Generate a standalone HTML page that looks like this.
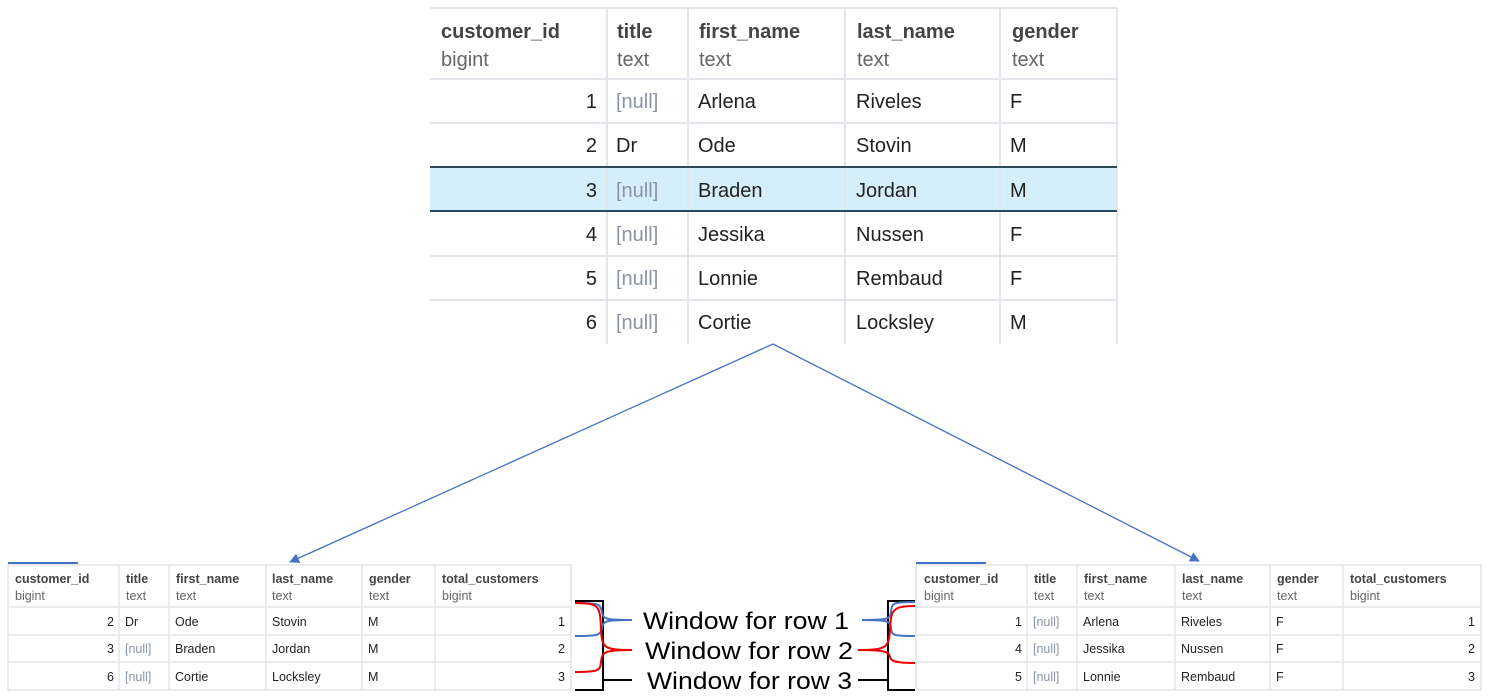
<!DOCTYPE html>
<html><head><meta charset="utf-8"><style>
html,body{margin:0;padding:0;background:#fff;width:1489px;height:700px;overflow:hidden}
svg{display:block;font-family:"Liberation Sans",sans-serif}
</style></head><body>
<svg width="1489" height="700" viewBox="0 0 1489 700">
<defs><marker id="ar" markerWidth="10" markerHeight="10" refX="9" refY="5" orient="auto" markerUnits="userSpaceOnUse"><path d="M0,0 L10,5 L0,10 z" fill="#4472c4"/></marker></defs>
<!-- top table -->
<rect x="430" y="167" width="687" height="44" fill="#d4eefa"/>
<g stroke="#e2e5ea" stroke-width="2" fill="none">
<line x1="430" y1="8" x2="1117" y2="8"/>
<line x1="430" y1="79" x2="1117" y2="79"/>
<line x1="430" y1="123" x2="1117" y2="123"/>
<line x1="430" y1="256" x2="1117" y2="256"/>
<line x1="430" y1="300" x2="1117" y2="300"/>
<line x1="607" y1="8" x2="607" y2="344"/><line x1="688" y1="8" x2="688" y2="344"/>
<line x1="845" y1="8" x2="845" y2="344"/><line x1="1000" y1="8" x2="1000" y2="344"/>
<line x1="1117" y1="8" x2="1117" y2="344"/>
</g>
<line x1="430" y1="167" x2="1117" y2="167" stroke="#2c4a5e" stroke-width="2"/>
<line x1="430" y1="211" x2="1117" y2="211" stroke="#2c4a5e" stroke-width="2"/>
<g font-size="20" fill="#444" font-weight="bold">
<text x="441" y="38">customer_id</text><text x="617" y="38">title</text><text x="699" y="38">first_name</text><text x="857" y="38">last_name</text><text x="1012" y="38">gender</text></g>
<g font-size="20" fill="#666">
<text x="441" y="66">bigint</text><text x="617" y="66">text</text><text x="699" y="66">text</text><text x="857" y="66">text</text><text x="1012" y="66">text</text></g>
<g font-size="20" fill="#222">
<g text-anchor="end"><text x="597" y="108">1</text><text x="597" y="152">2</text><text x="597" y="197">3</text><text x="597" y="241">4</text><text x="597" y="285">5</text><text x="597" y="329">6</text></g>
<g fill="#8a94a6"><text x="616" y="108">[null]</text><text x="616" y="197">[null]</text><text x="616" y="241">[null]</text><text x="616" y="285">[null]</text><text x="616" y="329">[null]</text></g>
<text x="616" y="152">Dr</text>
<text x="698" y="108">Arlena</text><text x="698" y="152">Ode</text><text x="698" y="197">Braden</text><text x="698" y="241">Jessika</text><text x="698" y="285">Lonnie</text><text x="698" y="329">Cortie</text>
<text x="856" y="108">Riveles</text><text x="856" y="152">Stovin</text><text x="856" y="197">Jordan</text><text x="856" y="241">Nussen</text><text x="856" y="285">Rembaud</text><text x="856" y="329">Locksley</text>
<text x="1010" y="108">F</text><text x="1010" y="152">M</text><text x="1010" y="197">M</text><text x="1010" y="241">F</text><text x="1010" y="285">F</text><text x="1010" y="329">M</text>
</g>
<!-- arrows -->
<line x1="773" y1="344" x2="290" y2="562" stroke="#4472c4" stroke-width="1.3" marker-end="url(#ar)"/>
<line x1="773" y1="344" x2="1199" y2="561" stroke="#4472c4" stroke-width="1.3" marker-end="url(#ar)"/>

<!-- left small table -->
<line x1="8" y1="563" x2="78" y2="563" stroke="#4472c4" stroke-width="2"/>
<g stroke="#e2e5ea" stroke-width="1.5" fill="none">
<rect x="8" y="565" width="563" height="125"/>
<line x1="8" y1="607" x2="571" y2="607"/><line x1="8" y1="635" x2="571" y2="635"/><line x1="8" y1="662" x2="571" y2="662"/>
<line x1="119" y1="565" x2="119" y2="690"/><line x1="169" y1="565" x2="169" y2="690"/><line x1="266" y1="565" x2="266" y2="690"/><line x1="362" y1="565" x2="362" y2="690"/><line x1="435" y1="565" x2="435" y2="690"/>
</g>
<g font-size="12.5" fill="#444" font-weight="bold"><text x="15" y="583">customer_id</text><text x="126" y="583">title</text><text x="176" y="583">first_name</text><text x="272" y="583">last_name</text><text x="369" y="583">gender</text><text x="442" y="583">total_customers</text></g>
<g font-size="12.5" fill="#666"><text x="15" y="600">bigint</text><text x="126" y="600">text</text><text x="176" y="600">text</text><text x="272" y="600">text</text><text x="369" y="600">text</text><text x="442" y="600">bigint</text></g>
<g font-size="12.5" fill="#222">
<g text-anchor="end"><text x="114" y="626">2</text><text x="114" y="653">3</text><text x="114" y="681">6</text><text x="565" y="626">1</text><text x="565" y="653">2</text><text x="565" y="681">3</text></g>
<text x="125" y="626">Dr</text><text x="125" y="653" fill="#8a94a6">[null]</text><text x="125" y="681" fill="#8a94a6">[null]</text>
<text x="175" y="626">Ode</text><text x="175" y="653">Braden</text><text x="175" y="681">Cortie</text>
<text x="272" y="626">Stovin</text><text x="272" y="653">Jordan</text><text x="272" y="681">Locksley</text>
<text x="368" y="626">M</text><text x="368" y="653">M</text><text x="368" y="681">M</text>
</g>

<!-- right small table -->
<line x1="916" y1="563" x2="986" y2="563" stroke="#4472c4" stroke-width="2"/>
<g stroke="#e2e5ea" stroke-width="1.5" fill="none">
<rect x="916" y="565" width="565" height="125"/>
<line x1="916" y1="607" x2="1481" y2="607"/><line x1="916" y1="635" x2="1481" y2="635"/><line x1="916" y1="662" x2="1481" y2="662"/>
<line x1="1027" y1="565" x2="1027" y2="690"/><line x1="1077" y1="565" x2="1077" y2="690"/><line x1="1175" y1="565" x2="1175" y2="690"/><line x1="1270" y1="565" x2="1270" y2="690"/><line x1="1343" y1="565" x2="1343" y2="690"/>
</g>
<g font-size="12.5" fill="#444" font-weight="bold"><text x="924" y="583">customer_id</text><text x="1034" y="583">title</text><text x="1084" y="583">first_name</text><text x="1182" y="583">last_name</text><text x="1277" y="583">gender</text><text x="1350" y="583">total_customers</text></g>
<g font-size="12.5" fill="#666"><text x="924" y="600">bigint</text><text x="1034" y="600">text</text><text x="1084" y="600">text</text><text x="1182" y="600">text</text><text x="1277" y="600">text</text><text x="1350" y="600">bigint</text></g>
<g font-size="12.5" fill="#222">
<g text-anchor="end"><text x="1022" y="626">1</text><text x="1022" y="653">4</text><text x="1022" y="681">5</text><text x="1475" y="626">1</text><text x="1475" y="653">2</text><text x="1475" y="681">3</text></g>
<g fill="#8a94a6"><text x="1033" y="626">[null]</text><text x="1033" y="653">[null]</text><text x="1033" y="681">[null]</text></g>
<text x="1083" y="626">Arlena</text><text x="1083" y="653">Jessika</text><text x="1083" y="681">Lonnie</text>
<text x="1181" y="626">Riveles</text><text x="1181" y="653">Nussen</text><text x="1181" y="681">Rembaud</text>
<text x="1276" y="626">F</text><text x="1276" y="653">F</text><text x="1276" y="681">F</text>
</g>

<!-- left braces -->
<path d="M575,601 H603 V690 H575" stroke="#000" stroke-width="2" fill="none"/>
<path d="M575,603 C600,603 600,604 602,612 C603,619 605,620 632,620 M575,636 C600,636 600,635 602,628 C603,621 605,620 632,620" stroke="#4472c4" stroke-width="2" fill="none"/>
<path d="M575,603 C600,603 600,606 601,630 C602,648 604,650 632,650 M575,672 C600,672 600,670 601,662 C602,652 604,650 632,650" stroke="#e00" stroke-width="2" fill="none"/>
<line x1="603" y1="680" x2="632" y2="680" stroke="#000" stroke-width="2"/>
<!-- right braces -->
<path d="M915,601 H888 V690 H915" stroke="#000" stroke-width="2" fill="none"/>
<path d="M915,602 C892,602 892,603 891,612 C890,619 888,620 862,620 M915,636 C892,636 892,635 891,628 C890,621 888,620 862,620" stroke="#4472c4" stroke-width="2" fill="none"/>
<path d="M915,606 C892,606 891,610 890,630 C889,648 886,650 858,650 M915,663 C892,663 891,660 890,657 C889,652 886,650 858,650" stroke="#e00" stroke-width="2" fill="none"/>
<line x1="858" y1="680" x2="888" y2="680" stroke="#000" stroke-width="2"/>
<g font-size="24" fill="#000" font-family="Liberation Sans, DejaVu Sans, sans-serif">
<text x="643" y="629" textLength="206" lengthAdjust="spacingAndGlyphs">Window for row 1</text><text x="645" y="659" textLength="208" lengthAdjust="spacingAndGlyphs">Window for row 2</text><text x="647" y="689" textLength="205" lengthAdjust="spacingAndGlyphs">Window for row 3</text></g>
</svg>
</body></html>
